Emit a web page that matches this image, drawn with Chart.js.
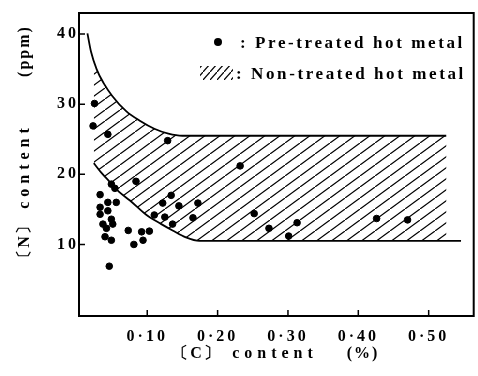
<!DOCTYPE html>
<html>
<head>
<meta charset="utf-8">
<script src="https://cdn.jsdelivr.net/npm/chart.js@4"></script>
<style>
  html, body { margin: 0; padding: 0; background: #fff; }
  #wrap { width: 478px; height: 376px; position: relative; }
</style>
</head>
<body>
<div id="wrap"><canvas id="chart" width="478" height="376"></canvas></div>
<script>
"use strict";

// axis ticks
const xTicks = [0.1, 0.2, 0.3, 0.4, 0.5];
const xTickLabels = ["0·10", "0·20", "0·30", "0·40", "0·50"];
const yTicks = [10, 20, 30, 40];
const yTickLabels = ["10", "20", "30", "40"];

// pre-treated hot metal: [C] % and [N] ppm
const pretreatedC = [0.025, 0.023, 0.044, 0.129, 0.049, 0.054, 0.084, 0.033, 0.056, 0.044,
                     0.033, 0.044, 0.033, 0.049, 0.051, 0.037, 0.042, 0.040, 0.049, 0.073,
                     0.092, 0.103, 0.094, 0.081, 0.046, 0.134, 0.122, 0.110, 0.125, 0.136,
                     0.232, 0.172, 0.145, 0.165, 0.252, 0.273, 0.313, 0.301, 0.426, 0.470];
const pretreatedN = [30.1, 26.9, 25.7, 24.8, 18.6, 18.0, 19.0, 17.1, 16.0, 16.0,
                     15.3, 14.8, 14.3, 13.6, 12.9, 12.9, 12.3, 11.1, 10.6, 12.0,
                     11.8, 11.9, 10.6, 10.0, 6.9, 17.0, 15.9, 14.2, 13.9, 12.9,
                     21.2, 15.9, 15.5, 13.8, 14.4, 12.3, 13.1, 11.2, 13.7, 13.5];

// non-treated hot metal band: upper and lower boundary
const upperC = [0.015, 0.020, 0.028, 0.038, 0.050, 0.070, 0.090, 0.110, 0.130, 0.150, 0.525];
const upperN = [40.1, 37.5, 35.0, 33.0, 31.2, 29.0, 27.6, 26.5, 25.8, 25.5, 25.5];
const lowerC = [0.024, 0.035, 0.047, 0.060, 0.075, 0.099, 0.120, 0.136, 0.155, 0.174, 0.546];
const lowerN = [21.6, 20.2, 18.9, 17.5, 16.3, 14.2, 12.9, 12.0, 11.0, 10.5, 10.5];

const FONT = "'Liberation Serif', 'DejaVu Serif', serif";

function pts(xs, ys) {
    return xs.map((x, i) => ({ x: x, y: ys[i] }));
}

function hatch(w, h) {
    const c = document.createElement("canvas");
    c.width = w; c.height = h;
    const g = c.getContext("2d");
    g.strokeStyle = "#000";
    g.lineWidth = 1.2;
    g.beginPath();
    g.moveTo(-w, 2 * h); g.lineTo(2 * w, -h);
    g.stroke();
    return g.createPattern(c, "repeat");
}

const pattern = hatch(15, 11);
const legendPattern = hatch(7, 8);

const spacing = {
    id: "spacing",
    beforeDraw(chart) { chart.ctx.letterSpacing = "3px"; },
    afterDraw(chart) { chart.ctx.letterSpacing = "0px"; }
};

const frame = {
    id: "frame",
    afterDraw(chart) {
        const { ctx, chartArea: a, scales } = chart;
        ctx.save();
        ctx.strokeStyle = "#000";
        ctx.lineWidth = 2;
        ctx.strokeRect(a.left, a.top, a.right - a.left, a.bottom - a.top);
        ctx.lineWidth = 1.5;
        ctx.beginPath();
        for (const v of xTicks) {
            const px = scales.x.getPixelForValue(v);
            ctx.moveTo(px, a.bottom); ctx.lineTo(px, a.bottom - 6);
        }
        for (const v of yTicks) {
            const py = scales.y.getPixelForValue(v);
            ctx.moveTo(a.left, py); ctx.lineTo(a.left + 6, py);
        }
        ctx.stroke();

        // legend
        ctx.fillStyle = "#000";
        ctx.beginPath();
        ctx.arc(218, 42, 4, 0, Math.PI * 2);
        ctx.fill();
        ctx.fillStyle = legendPattern;
        ctx.fillRect(200, 66, 33, 14);
        ctx.fillStyle = "#000";
        ctx.font = "bold 17px " + FONT;
        ctx.letterSpacing = "2.6px";
        ctx.textBaseline = "alphabetic";
        ctx.textAlign = "left";
        ctx.fillText(": Pre-treated hot metal", 240, 48);
        ctx.fillText(": Non-treated hot metal", 236, 79);

        // axis titles
        ctx.font = "bold 16px " + FONT;
        ctx.textAlign = "center";
        ctx.textBaseline = "middle";
        ctx.letterSpacing = "2px";
        ctx.fillText("〔C〕", 197, 354);
        ctx.fillText("(%)", 363, 354);
        ctx.letterSpacing = "5px";
        ctx.fillText("content", 275, 354);
        ctx.translate(25, 0);
        ctx.rotate(-Math.PI / 2);
        ctx.letterSpacing = "2px";
        ctx.fillText("〔N〕", -241, 0);
        ctx.fillText("(ppm)", -51, 0);
        ctx.letterSpacing = "5px";
        ctx.fillText("content", -166, 0);
        ctx.restore();
    }
};

new Chart(document.getElementById("chart"), {
    data: {
        datasets: [
            {
                type: "scatter",
                label: "Pre-treated hot metal",
                data: pts(pretreatedC, pretreatedN),
                backgroundColor: "#000",
                borderColor: "#000",
                pointRadius: 3.3,
                pointHoverRadius: 3.3,
                order: 0
            },
            {
                type: "line",
                label: "upper",
                data: pts(upperC, upperN),
                borderColor: "#000",
                borderWidth: 1.8,
                pointRadius: 0,
                cubicInterpolationMode: "monotone",
                fill: false,
                order: 1
            },
            {
                type: "line",
                label: "Non-treated hot metal",
                data: pts(lowerC, lowerN),
                borderColor: "#000",
                borderWidth: 1.8,
                backgroundColor: pattern,
                pointRadius: 0,
                cubicInterpolationMode: "monotone",
                fill: "-1",
                order: 1
            }
        ]
    },
    options: {
        responsive: false,
        animation: false,
        events: [],
        layout: { padding: { top: 13, right: 3, left: 0, bottom: 0 } },
        plugins: { legend: { display: false }, tooltip: { enabled: false } },
        scales: {
            x: {
                type: "linear",
                min: 0.003, max: 0.564,
                grid: { display: false, drawTicks: false },
                border: { display: false },
                afterBuildTicks: s => { s.ticks = xTicks.map(v => ({ value: v })); },
                afterFit: s => { s.height = 60; },
                ticks: {
                    color: "#000",
                    padding: 11,
                    font: { family: FONT, size: 16, weight: "bold" },
                    callback: v => xTickLabels[xTicks.indexOf(v)]
                }
            },
            y: {
                type: "linear",
                min: -0.2, max: 43,
                grid: { display: false, drawTicks: false },
                border: { display: false },
                afterBuildTicks: s => { s.ticks = yTicks.map(v => ({ value: v })); },
                afterFit: s => { s.width = 79; },
                ticks: {
                    color: "#000",
                    padding: 0,
                    font: { family: FONT, size: 16, weight: "bold" },
                    callback: v => yTickLabels[yTicks.indexOf(v)]
                }
            }
        }
    },
    plugins: [spacing, frame]
});
</script>
</body>
</html>
